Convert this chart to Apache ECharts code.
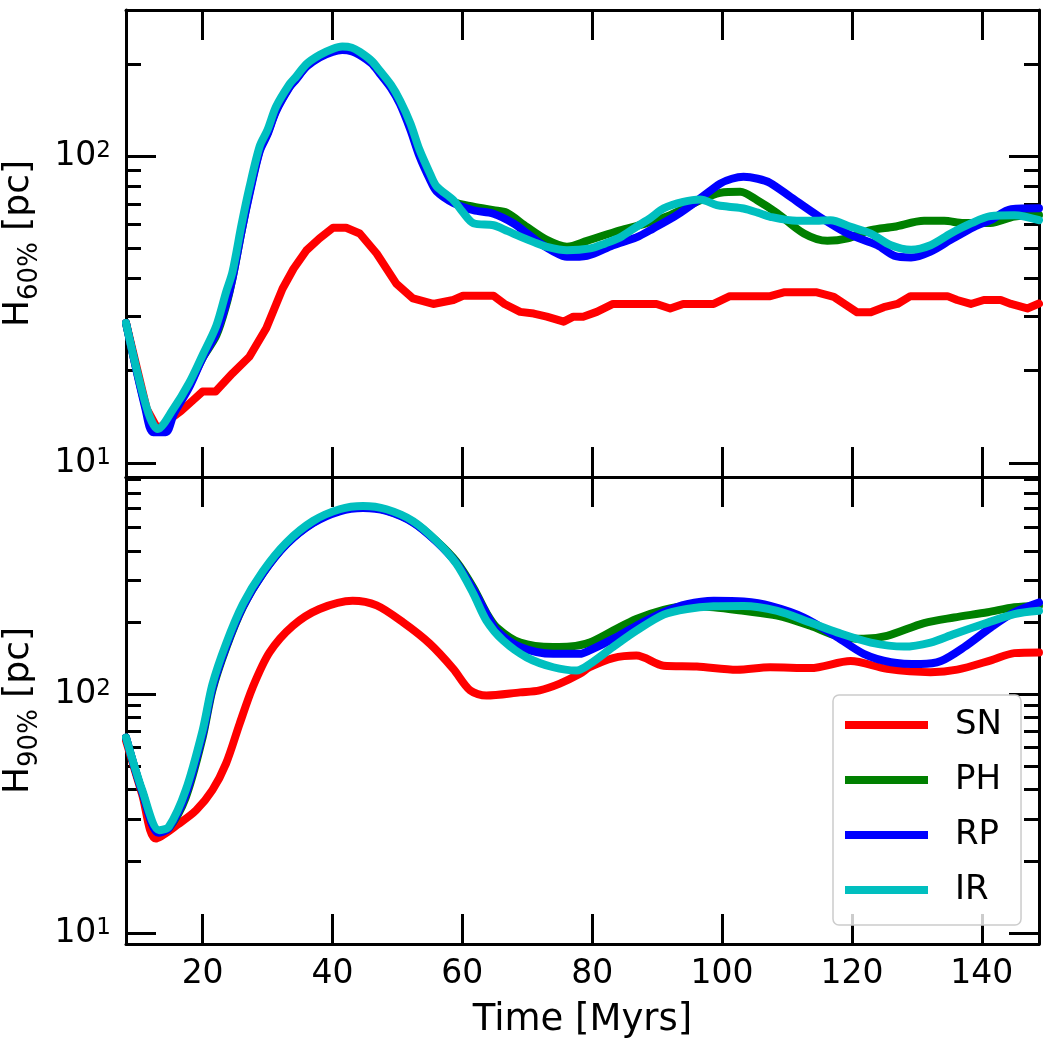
<!DOCTYPE html>
<html>
<head>
<meta charset="utf-8">
<script src="https://cdn.jsdelivr.net/npm/echarts@6/dist/echarts.min.js"></script>
<style>
  html, body { margin: 0; padding: 0; background: #ffffff; }
  #chart { width: 1050px; height: 1050px; }
</style>
</head>
<body>
<div id="chart"></div>
<script>
// [time (Myrs), height (pc)]
const h60_SN = [[8.2,28.6],[11.4,15],[13.1,12.9],[15,13.9],[16.7,14.8],[18.5,16],[20,17.1],[22,17.1],[24.6,19.6],[27.2,22.2],[29.8,27.5],[32.3,37],[34,43],[36,49.4],[38,54],[40.1,58.5],[42.1,58.5],[44.2,56],[46.8,48.2],[49.8,38.5],[52.4,34.4],[55.5,33],[58.6,34],[60.1,35.1],[64.8,35.1],[66.5,33],[68.9,31.1],[71,30.7],[73,30],[75.6,28.9],[77.1,30],[78.6,30],[80.7,31.1],[83.2,33],[89.9,33],[92,31.9],[94,33],[98.7,33],[101.2,35],[107.4,35],[109.5,36],[114.6,36],[117.2,34.8],[120.8,31],[122.9,31],[124.9,32.2],[127,33],[129,35],[134.7,35],[136.2,34],[138.3,33],[140.3,34],[142.9,34],[144.5,33],[147,31.9],[148.8,33.1]];
const h60_PH = [[8.2,28.6],[11.3,15],[12.6,12.8],[14.2,12.9],[15.5,14.7],[17.9,17.9],[20,22],[22.1,26],[23.6,32.5],[24.6,40],[26,57],[27.2,76],[28.8,105],[30,119],[31.3,141],[33.4,169],[34.4,179],[36,197],[38,211],[40,221],[41.5,224],[43,222],[44.2,216],[46,203],[47.3,188],[49,169],[50.4,150],[52,125],[53.4,103],[55,86],[56,79],[58.6,71],[61.7,68.5],[64.8,66.7],[66.8,65.5],[69.9,58.9],[73,53.4],[76.1,50.7],[79.2,53],[84.3,57.4],[87.9,60.1],[92,64.3],[96.1,71],[99.7,76],[102.8,76.6],[105.4,71.9],[108.5,65.2],[112.6,56],[116.2,53],[119.3,54],[122.9,57.4],[126.5,58.9],[131.1,61.6],[134.2,61.6],[137.2,60.6],[141.3,60.6],[145,63.6],[148.8,64.3]];
const h60_RP = [[8.2,28.6],[11.2,15],[12.4,12.6],[14.3,12.6],[15.6,14.5],[17.9,17.6],[20,22],[22.1,26.5],[23.6,33],[24.6,40],[26,57],[27.2,75],[28.8,104],[30,118],[31.3,140],[33.4,168],[34.4,178],[36,196],[38,210],[40,219],[41.5,222],[43,220],[44.2,214],[46,201],[47.3,186],[49,167],[50.4,148],[52,122],[53.4,100],[55,84],[56,77],[58.6,70.5],[61.7,66.7],[64.8,65],[67.9,60.4],[70,56],[72,52],[74,49],[76.1,47],[79.2,47.4],[83.2,51.3],[86.8,54.4],[89.4,58.2],[93,64.3],[96.6,72.8],[99.7,81.5],[101.5,84.5],[103.3,85.7],[105.5,84.5],[107.4,81.9],[110.5,73.8],[114.6,64.3],[119.3,56],[123.9,51.3],[126.5,47.4],[129.1,46.8],[132.1,48.9],[135.2,53.4],[138.8,58.9],[141.3,61.9],[144.5,67.2],[148.8,67.7]];
const h60_IR = [[8.2,28.6],[11.4,15.1],[13.1,12.9],[15.4,14.9],[17.9,18.2],[20,22.5],[22.1,28],[23.6,36],[24.6,42],[26,60],[27.2,79],[28.8,108],[30,122],[31.3,145],[33.4,172],[34.4,182],[36,200],[38,214],[40,224],[41.5,228],[43,226],[44.2,219],[46,205],[47.3,190],[49,171],[50.4,152],[52,128],[53.4,105],[55,88],[56,80],[58.6,72],[60,66],[61.7,60.5],[64.8,59.6],[67,57],[69,54.6],[71,52.5],[73,50.7],[76.1,49.4],[79.7,50.1],[82,52],[84.3,54.4],[86.8,58.9],[89,63],[91,67.6],[94,71],[96.6,72.3],[99.2,69.3],[101,68.5],[103.3,67.6],[105.5,65.5],[107.4,63.5],[111.5,61.6],[114,61.6],[116.7,61.9],[119.8,58.9],[122.9,56],[126,51.3],[129.1,49.6],[132.1,51.3],[135.2,56],[138.3,60.4],[141.3,63.8],[145,64.3],[148.8,61.9]];

const h90_SN = [[8.2,64],[10.7,38],[12.8,24.9],[16.4,28.8],[19,32.7],[21.5,39.7],[23.6,51.3],[25.7,75.4],[27.7,107],[30.3,150],[33.9,194],[38,228],[43.1,247],[46.8,236],[50.9,200],[55,163],[58.6,128],[61.2,104],[63.7,99],[68.9,102],[71.9,104],[75,111],[78.1,122],[79.6,130],[83.2,142],[86.8,145.5],[91,132],[96.1,131],[102.3,127],[107.4,130],[113.6,129],[119.8,138],[125.4,128],[132.1,124],[136.2,127],[141.4,139],[145,149],[148.8,150]];
const h90_PH = [[8.2,66],[10.7,39],[13.2,26.5],[14.8,27.5],[17.4,37],[20,66],[21.5,104],[23.6,156],[26.2,232],[29.3,322],[32.9,427],[37,525],[41.1,590],[44.7,608],[48.3,590],[52.4,528],[56,440],[59.1,360],[61.7,280],[63.7,220],[65.3,191],[68.9,165],[74,158],[76.6,158.7],[79.6,165],[83.2,185],[86.8,207],[91,226],[94.6,235],[98.7,232],[103.3,224],[108.5,214],[113.6,194],[117.7,176],[121.8,171],[125.4,176],[131.1,199],[135.7,210],[140.9,221],[145,232],[148.8,235]];
const h90_RP = [[8.2,66],[10.7,39],[13.2,26.3],[14.8,27.5],[17.4,38],[20,68],[21.5,106],[23.6,158],[26.2,233],[29.3,322],[32.9,425],[37,522],[41.1,585],[44.7,604],[48.3,587],[52.4,525],[56,437],[59.1,355],[61.7,275],[63.7,218],[65.3,185],[68.9,158],[74,148],[78.1,148],[79.6,153],[83.2,171],[86.8,194],[91,221],[94.6,239],[98.7,247],[103.3,245],[107.4,235],[112.6,210],[117.7,174],[121.8,148],[126,136.5],[130.6,134],[133.7,138],[137.3,158],[141.4,191],[145,221],[148.8,243]];
const h90_IR = [[8.2,66],[10.7,39.7],[13.3,27],[14.8,27.9],[17.4,39.7],[20,70.7],[21.5,110],[23.6,163],[26.2,239],[29.3,329],[32.9,433],[37,533],[41.1,597],[44.7,616],[48.3,597],[52.4,533],[56,440],[59.1,352],[61.7,264],[63.7,204],[66.3,168],[69.9,143],[74,130],[77.6,126],[79.6,134],[83.2,158],[86.8,185],[91,216],[94.6,228],[98.7,234],[103.3,235],[108.5,224],[113.6,200],[117.7,182],[122.9,165],[128,158.7],[132.1,165],[135.7,179],[140.9,200],[145,217],[148.8,224]];

const runNames = ["SN", "PH", "RP", "IR"];
const runColors = ["#ff0000", "#008000", "#0000ff", "#00bfbf"];
const timeTicks = [20, 40, 60, 80, 100, 120, 140];
const majorTicks = [10, 100];
const minorTicksTop = [20, 30, 40, 50, 60, 70, 80, 90, 200, 300];
const minorTicksBottom = [20, 30, 40, 50, 60, 70, 80, 90, 200, 300, 400, 500, 600, 700, 800];

const FONT = "DejaVu Sans";
const spine = { show: true, lineStyle: { color: "#000", width: 3 } };

function xAxisFor(gridIndex, position, withLabels) {
  return {
    type: "value",
    gridIndex,
    position,
    min: 8.2,
    max: 148.8,
    axisLine: { ...spine, onZero: false },
    axisTick: { show: true, inside: true, length: 30, lineStyle: { color: "#000", width: 3 }, customValues: timeTicks },
    axisLabel: withLabels
      ? { show: true, customValues: timeTicks, fontSize: 33, fontFamily: FONT, color: "#000", margin: 14 }
      : { show: false },
    splitLine: { show: false },
    name: withLabels ? "Time [Myrs]" : "",
    nameLocation: "middle",
    nameGap: 58,
    nameTextStyle: { fontSize: 37, fontFamily: FONT, color: "#000" },
  };
}

function yAxisFor(gridIndex, range, position, ticks, tickLen, opts) {
  return {
    type: "log",
    logBase: 10,
    gridIndex,
    position,
    min: range[0],
    max: range[1],
    axisLine: opts.line ? { ...spine, onZero: false } : { show: false },
    axisTick: { show: true, inside: true, length: tickLen, lineStyle: { color: "#000", width: 3 }, customValues: ticks },
    axisLabel: opts.labels
      ? {
          show: true,
          customValues: ticks,
          margin: 15,
          fontFamily: FONT,
          color: "#000",
          formatter: (v) => "{b|10}{s|" + Math.round(Math.log10(v)) + "}",
          rich: {
            b: { fontSize: 33, fontFamily: FONT, color: "#000" },
            s: { fontSize: 23, fontFamily: FONT, color: "#000", verticalAlign: "top" },
          },
        }
      : { show: false },
    splitLine: { show: false },
    name: opts.name || "",
    nameLocation: "middle",
    nameRotate: 90,
    nameGap: 72,
    nameTextStyle: {
      fontFamily: FONT,
      color: "#000",
      rich: {
        h: { fontSize: 36, fontFamily: FONT, color: "#000", verticalAlign: "top" },
        sub: { fontSize: 26, fontFamily: FONT, color: "#000", verticalAlign: "bottom", padding: [17, 0, 0, 0] },
      },
    },
  };
}

function panelSeries(sets, xAxisIndex, yAxisIndex, stepRed) {
  return sets.map((data, i) => ({
    name: runNames[i],
    type: "line",
    xAxisIndex,
    yAxisIndex,
    data,
    showSymbol: false,
    smooth: i === 0 && stepRed ? false : 0.3,
    lineStyle: { color: runColors[i], width: 8, cap: "round", join: "round" },
    itemStyle: { color: runColors[i] },
    z: 2 + i,
  }));
}

const chart = echarts.init(document.getElementById("chart"), null, { renderer: "canvas" });

const rangeTop = [9, 300];
const rangeBottom = [9, 815];

chart.setOption({
  animation: false,
  backgroundColor: "#ffffff",
  grid: [
    { left: 126, right: 11, top: 10, height: 467, outerBoundsMode: "none" },
    { left: 126, right: 11, top: 477, height: 467, outerBoundsMode: "none" },
  ],
  xAxis: [
    xAxisFor(0, "bottom", false),
    xAxisFor(0, "top", false),
    xAxisFor(1, "bottom", true),
    xAxisFor(1, "top", false),
  ],
  yAxis: [
    yAxisFor(0, rangeTop, "left", majorTicks, 30, { line: true, labels: true, name: "{h|H}{sub|60%}{h| [pc]}" }),
    yAxisFor(0, rangeTop, "left", minorTicksTop, 15, {}),
    yAxisFor(0, rangeTop, "right", majorTicks, 30, { line: true }),
    yAxisFor(0, rangeTop, "right", minorTicksTop, 15, {}),
    yAxisFor(1, rangeBottom, "left", majorTicks, 30, { line: true, labels: true, name: "{h|H}{sub|90%}{h| [pc]}" }),
    yAxisFor(1, rangeBottom, "left", minorTicksBottom, 15, {}),
    yAxisFor(1, rangeBottom, "right", majorTicks, 30, { line: true }),
    yAxisFor(1, rangeBottom, "right", minorTicksBottom, 15, {}),
  ],
  legend: {
    data: runNames,
    orient: "vertical",
    left: 833,
    top: 695,
    icon: "rect",
    itemWidth: 83,
    itemHeight: 8,
    itemGap: 21,
    padding: [13, 19, 18, 12],
    backgroundColor: "rgba(255,255,255,0.8)",
    borderColor: "#cccccc",
    borderWidth: 1.5,
    borderRadius: 6,
    textStyle: { fontSize: 34, lineHeight: 34, fontFamily: FONT, color: "#000", padding: [0, 0, 0, 22] },
  },
  series: [
    ...panelSeries([h60_SN, h60_PH, h60_RP, h60_IR], 0, 0, true),
    ...panelSeries([h90_SN, h90_PH, h90_RP, h90_IR], 2, 4, false),
  ],
});

window.addEventListener("resize", () => chart.resize());
</script>
</body>
</html>
